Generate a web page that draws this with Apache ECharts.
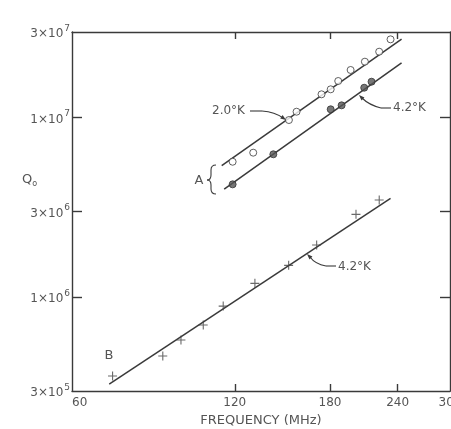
<!DOCTYPE html>
<html>
<head>
<meta charset="utf-8">
<script src="https://cdn.jsdelivr.net/npm/echarts@6/dist/echarts.min.js"></script>
<style>html,body{margin:0;padding:0;background:#fff;}#c{width:451px;height:429px;}</style>
</head>
<body>
<div id="c"></div>
<script>
// ---- data (frequency in MHz, Q0) ----
const freqTicks = [120, 180, 240];
const freqLabels = [60, 120, 180, 240, 300];
const qTicks = [1e6, 3e6, 1e7];
const qLabels = [3e5, 1e6, 3e6, 1e7, 3e7];

const a20Freq = [118.9, 129.8, 151.1, 156.1, 173.6, 180.5, 186.4, 196.5, 208.8, 221.9, 232.9];
const a20Q = [5.68e6, 6.38e6, 9.70e6, 1.079e7, 1.349e7, 1.438e7, 1.60e7, 1.843e7, 2.05e7, 2.33e7, 2.73e7];
const a42Freq = [118.9, 141.4, 180.5, 189.1, 208.2, 214.8];
const a42Q = [4.25e6, 6.25e6, 1.113e7, 1.171e7, 1.468e7, 1.586e7];
const bFreq = [71.3, 88.3, 95.4, 104.9, 114.2, 130.7, 150.9, 170.0, 201.0, 221.9];
const bQ = [3.64e5, 4.70e5, 5.77e5, 7.00e5, 8.92e5, 1.194e6, 1.505e6, 1.952e6, 2.894e6, 3.48e6];

const fit20Freq = [113.5, 244.1];
const fit20Q = [5.40e6, 2.74e7];
const fit42Freq = [114.7, 244.1];
const fit42Q = [4.00e6, 2.02e7];
const fitBFreq = [70.3, 232.9];
const fitBQ = [3.28e5, 3.55e6];

// ---- helpers ----
const L = Math.log10;
const pairs = (xs, ys) => xs.map((x, i) => [L(x), L(ys[i])]);
const FONT = 'DejaVu Sans';
const TXT = '#555';
const INK = '#3a3a3a';

const chart = echarts.init(document.getElementById('c'), null, {renderer: 'canvas'});

const axisLineStyle = {color: INK, width: 1.4};
function xAxisCfg(pos, labels) {
  return {
    type: 'value', position: pos, min: L(60), max: L(300),
    axisLine: {show: true, lineStyle: axisLineStyle},
    axisTick: {show: true, inside: true, length: 7, customValues: freqTicks.map(L), lineStyle: axisLineStyle},
    axisLabel: labels ? {
      show: true, customValues: freqLabels.map(L), margin: 6, color: TXT,
      fontFamily: FONT, fontSize: 12, alignMinLabel: 'left',
      formatter: v => String(Math.round(Math.pow(10, v)))
    } : {show: false},
    splitLine: {show: false},
    name: labels ? 'FREQUENCY (MHz)' : '',
    nameLocation: 'middle', nameGap: 23,
    nameTextStyle: {color: TXT, fontFamily: FONT, fontSize: 13}
  };
}
function yAxisCfg(pos, labels) {
  return {
    type: 'value', position: pos, min: L(3e5), max: L(3e7),
    axisLine: {show: true, lineStyle: axisLineStyle},
    axisTick: {show: true, inside: true, length: 10, customValues: qTicks.map(L), lineStyle: axisLineStyle},
    axisLabel: labels ? {
      show: true, customValues: qLabels.map(L), margin: 2, color: TXT,
      fontFamily: FONT, fontSize: 12,
      formatter: v => {
        const e = Math.floor(v + 1e-9);
        const m = Math.round(Math.pow(10, v - e));
        return '{m|' + m + '×10}{e|' + e + '}';
      },
      rich: {
        m: {fontFamily: FONT, fontSize: 12, color: TXT, lineHeight: 16, verticalAlign: 'bottom'},
        e: {fontFamily: FONT, fontSize: 9, color: TXT, lineHeight: 16, verticalAlign: 'top', padding: [0, 0, 0, 1]}
      }
    } : {show: false},
    splitLine: {show: false}
  };
}

const plusPath = 'path://M4,0h1.1v9h-1.1z M0,4h9v1.1h-9z';

const fitLine = (xs, ys) => ({
  type: 'line', data: pairs(xs, ys), symbol: 'none', silent: true,
  lineStyle: {color: INK, width: 1.5}, z: 2, animation: false
});

const strokeStyle = {stroke: INK, lineWidth: 1.1, fill: null};
function arrowHead(tx, ty, fx, fy) {
  const a = Math.atan2(ty - fy, tx - fx), s = 6, w = 0.35;
  return {
    type: 'polygon', silent: true,
    shape: {points: [[tx, ty],
      [tx - s * Math.cos(a - w), ty - s * Math.sin(a - w)],
      [tx - s * Math.cos(a + w), ty - s * Math.sin(a + w)]]},
    style: {fill: INK}
  };
}
const txt = (x, y, t, size, align) => ({
  type: 'text', x, y, silent: true,
  style: {text: t, fill: TXT, font: size + 'px "' + FONT + '"', align: align || 'left', verticalAlign: 'middle'}
});
const seg = (x1, y1, x2, y2) => ({type: 'line', silent: true, shape: {x1, y1, x2, y2}, style: strokeStyle});
const qb = (x1, y1, cx, cy, x2, y2) => ({type: 'bezierCurve', silent: true,
  shape: {x1, y1, x2, y2, cpx1: cx, cpy1: cy}, style: strokeStyle});

chart.setOption({
  animation: false,
  backgroundColor: '#fff',
  grid: {left: 72, top: 32, right: 1, bottom: 38, containLabel: false, outerBoundsMode: 'none'},
  xAxis: [xAxisCfg('bottom', true), xAxisCfg('top', false)],
  yAxis: [yAxisCfg('left', true), yAxisCfg('right', false)],
  series: [
    fitLine(fit20Freq, fit20Q),
    fitLine(fit42Freq, fit42Q),
    fitLine(fitBFreq, fitBQ),
    {type: 'scatter', data: pairs(a20Freq, a20Q), symbol: 'circle', symbolSize: 7, z: 3,
     itemStyle: {color: '#fff', borderColor: INK, borderWidth: 1}},
    {type: 'scatter', data: pairs(a42Freq, a42Q), symbol: 'circle', symbolSize: 7, z: 3,
     itemStyle: {color: '#555', borderColor: '#333', borderWidth: 1}},
    {type: 'scatter', data: pairs(bFreq, bQ), symbol: plusPath, symbolSize: 9, z: 3,
     itemStyle: {color: '#444'}}
  ],
  graphic: [
    // Q0 label
    {type: 'text', x: 22, y: 180, silent: true,
     style: {text: '{q|Q}{s|o}', verticalAlign: 'middle',
       rich: {q: {font: '13px "' + FONT + '"', fill: TXT, lineHeight: 16},
              s: {font: '8px "' + FONT + '"', fill: TXT, lineHeight: 16, verticalAlign: 'bottom'}}}},
    // 2.0 K annotation
    txt(212, 111, '2.0°K', 12),
    seg(250, 111, 262, 111),
    qb(262, 111, 275, 112, 283, 118),
    arrowHead(286, 120, 279, 115),
    // 4.2 K (A) annotation
    txt(393, 108, '4.2°K', 12),
    seg(391, 108, 381, 108),
    qb(381, 108, 369, 105, 362, 98),
    arrowHead(359, 95, 365, 101),
    // 4.2 K (B) annotation
    txt(338, 267, '4.2°K', 12),
    seg(336, 266, 326, 266),
    qb(326, 266, 315, 264, 310, 257),
    arrowHead(307, 254, 312, 259),
    // A with brace
    txt(199, 181, 'A', 13, 'center'),
    qb(216, 165, 211, 165, 211, 170),
    seg(211, 170, 211, 175),
    qb(211, 175, 211, 180, 207, 180),
    qb(207, 180, 211, 180, 211, 185),
    seg(211, 185, 211, 189),
    qb(211, 189, 211, 194, 216, 194),
    // B
    txt(109, 356, 'B', 13, 'center')
  ]
});
</script>
</body>
</html>
